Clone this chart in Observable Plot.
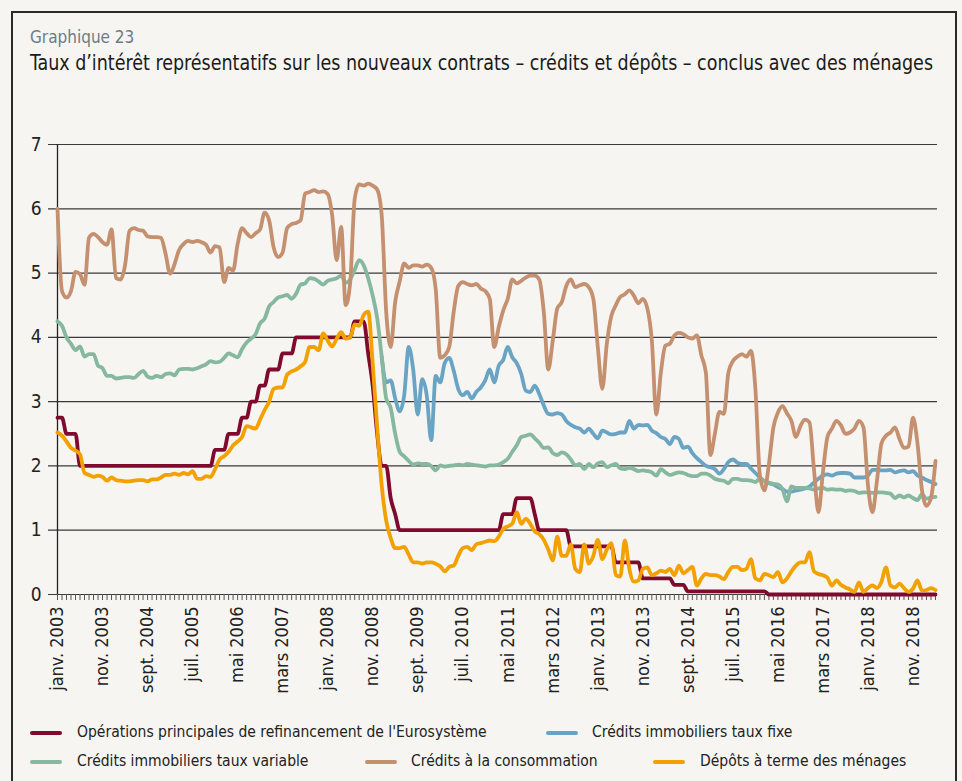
<!DOCTYPE html>
<html><head><meta charset="utf-8">
<script src="https://cdn.jsdelivr.net/npm/d3@7"></script>
<script src="https://cdn.jsdelivr.net/npm/@observablehq/plot@0.6"></script>
<style>
html,body{margin:0;padding:0;background:#f6f5f1;}
body{width:962px;height:781px;position:relative;overflow:hidden;font-family:"Liberation Sans Narrow","DejaVu Sans Condensed","DejaVu Sans",sans-serif;font-stretch:condensed;}
#frame{position:absolute;left:11px;top:11px;width:946px;height:800px;border:2px solid #2a2a2a;border-bottom:none;background:#f6f5f1;box-sizing:border-box;}
#kicker{position:absolute;left:30px;top:27px;font-size:17px;color:#6e7b86;}
#title{position:absolute;left:30px;top:51px;font-size:21px;color:#1b1b1b;white-space:nowrap;transform-origin:0 0;}
#chart{position:absolute;left:0;top:100px;}
.leg{position:absolute;font-size:15.5px;color:#222;white-space:nowrap;line-height:18px;}
.sw{position:absolute;height:4px;border-radius:2px;}
</style></head>
<body>
<div id="frame"></div>
<div id="kicker">Graphique 23</div>
<div id="title">Taux d’intérêt représentatifs sur les nouveaux contrats – crédits et dépôts – conclus avec des ménages</div>
<div id="chart"></div>
<div id="legend"></div>
<script>
// x tick labels (every 10 months from janv. 2003)
const tickLabels = ["janv. 2003","nov. 2003","sept. 2004","juil. 2005","mai 2006","mars 2007","janv. 2008","nov. 2008","sept. 2009","juil. 2010","mai 2011","mars 2012","janv. 2013","nov. 2013","sept. 2014","juil. 2015","mai 2016","mars 2017","janv. 2018","nov. 2018"];
const yTicks = [0,1,2,3,4,5,6,7];

// Opérations principales de refinancement de l'Eurosystème (monthly, janv. 2003 -> avr. 2019)
const refi = [
2.75,2.75,2.5,2.5,2.5,2,2,2,2,2,
2,2,2,2,2,2,2,2,2,2,
2,2,2,2,2,2,2,2,2,2,
2,2,2,2,2,2.25,2.25,2.25,2.5,2.5,
2.5,2.75,2.75,3,3,3.25,3.25,3.5,3.5,3.5,
3.75,3.75,3.75,4,4,4,4,4,4,4,
4,4,4,4,4,4,4.25,4.25,4.25,3.75,
3.25,2.5,2,2,1.5,1.25,1,1,1,1,
1,1,1,1,1,1,1,1,1,1,
1,1,1,1,1,1,1,1,1,1.25,
1.25,1.25,1.5,1.5,1.5,1.5,1.25,1,1,1,
1,1,1,1,0.75,0.75,0.75,0.75,0.75,0.75,
0.75,0.75,0.75,0.75,0.5,0.5,0.5,0.5,0.5,0.5,
0.25,0.25,0.25,0.25,0.25,0.25,0.25,0.15,0.15,0.15,
0.05,0.05,0.05,0.05,0.05,0.05,0.05,0.05,0.05,0.05,
0.05,0.05,0.05,0.05,0.05,0.05,0.05,0.05,0,0,
0,0,0,0,0,0,0,0,0,0,
0,0,0,0,0,0,0,0,0,0,
0,0,0,0,0,0,0,0,0,0,
0,0,0,0,0,0];

// Crédits immobiliers taux fixe (from janv. 2009)
const fixe = [
null,null,null,null,null,null,null,null,null,null,
null,null,null,null,null,null,null,null,null,null,
null,null,null,null,null,null,null,null,null,null,
null,null,null,null,null,null,null,null,null,null,
null,null,null,null,null,null,null,null,null,null,
null,null,null,null,null,null,null,null,null,null,
null,null,null,null,null,null,null,null,null,null,
null,null,3.7,3.3,3.33,3.05,2.85,3.1,3.85,3.5,
2.8,3.35,3.1,2.4,3.4,3.3,3.6,3.68,3.48,3.2,
3.1,3.15,3.05,3.15,3.22,3.33,3.5,3.3,3.56,3.65,
3.85,3.69,3.6,3.43,3.17,3.15,3.25,3.12,2.94,2.81,
2.8,2.82,2.8,2.7,2.64,2.6,2.58,2.52,2.58,2.5,
2.43,2.55,2.52,2.49,2.5,2.52,2.52,2.7,2.58,2.64,
2.63,2.64,2.55,2.51,2.45,2.42,2.34,2.45,2.42,2.28,
2.3,2.2,2.12,2.06,2,1.98,1.95,1.88,1.95,2.06,
2.1,2.05,2.03,2.03,1.96,1.89,1.82,1.76,1.73,1.71,
1.67,1.64,1.6,1.6,1.62,1.63,1.65,1.68,1.74,1.8,
1.85,1.87,1.85,1.88,1.89,1.89,1.88,1.82,1.82,1.82,
1.85,1.94,1.94,1.93,1.93,1.94,1.9,1.92,1.93,1.9,
1.92,1.85,1.82,1.78,1.75,1.72];

// Crédits immobiliers taux variable
const variable = [
4.25,4.18,4,3.9,3.8,3.86,3.7,3.74,3.74,3.56,
3.52,3.4,3.4,3.36,3.37,3.38,3.38,3.37,3.43,3.48,
3.39,3.37,3.4,3.38,3.43,3.44,3.41,3.5,3.51,3.51,
3.5,3.52,3.55,3.58,3.63,3.61,3.62,3.68,3.75,3.72,
3.69,3.82,3.92,3.98,4.05,4.22,4.29,4.48,4.55,4.62,
4.64,4.66,4.6,4.68,4.82,4.84,4.92,4.91,4.87,4.82,
4.88,4.9,4.92,4.96,4.85,4.9,5.05,5.2,5.12,4.92,
4.65,4.3,3.7,3.05,2.9,2.5,2.22,2.15,2.08,2.02,
2.04,2.03,2.03,2,1.93,2.01,1.99,2,2.01,2.02,
2.01,2.03,2.02,2.01,2,1.99,2.01,2.01,2.02,2.06,
2.11,2.22,2.32,2.45,2.47,2.49,2.43,2.36,2.28,2.29,
2.2,2.17,2.21,2.18,2.1,2.01,2.03,1.95,2.03,1.98,
2.04,2.06,1.98,2.01,2.03,1.96,1.95,1.97,1.95,1.92,
1.93,1.92,1.9,1.85,1.95,1.9,1.86,1.88,1.9,1.89,
1.86,1.84,1.84,1.88,1.88,1.85,1.8,1.78,1.77,1.73,
1.8,1.8,1.78,1.78,1.77,1.75,1.8,1.76,1.74,1.72,
1.71,1.64,1.45,1.68,1.66,1.66,1.66,1.65,1.63,1.65,
1.66,1.63,1.64,1.63,1.63,1.61,1.62,1.61,1.58,1.59,
1.59,1.58,1.59,1.59,1.58,1.57,1.5,1.54,1.51,1.54,
1.5,1.47,1.56,1.49,1.51,1.52];

// Crédits à la consommation
const conso = [
6,4.72,4.62,4.72,5.02,4.98,4.82,5.55,5.61,5.56,
5.48,5.44,5.68,4.92,4.9,5.12,5.66,5.7,5.67,5.66,
5.57,5.56,5.56,5.55,5.3,4.99,5.14,5.36,5.45,5.5,
5.48,5.5,5.48,5.44,5.32,5.42,5.4,4.86,5.08,5.04,
5.45,5.7,5.62,5.56,5.62,5.68,5.94,5.82,5.4,5.25,
5.32,5.7,5.76,5.78,5.82,6.24,6.26,6.29,6.26,6.27,
6.23,5.9,5.2,5.72,4.5,4.85,6.15,6.38,6.36,6.39,
6.36,6.3,5.9,4.4,3.85,4.55,4.87,5.15,5.08,5.12,
5.12,5.1,5.13,5.08,4.75,3.68,3.72,3.85,4.4,4.8,
4.86,4.83,4.81,4.83,4.76,4.72,4.6,3.85,4.16,4.42,
4.6,4.9,4.84,4.88,4.93,4.96,4.96,4.9,4.4,3.5,
3.95,4.45,4.55,4.8,4.9,4.78,4.81,4.83,4.78,4.6,
3.85,3.2,3.9,4.33,4.5,4.63,4.67,4.73,4.65,4.53,
4.6,4.45,3.95,2.8,3.45,3.87,3.9,4.03,4.07,4.05,
4,3.98,4.03,3.72,3.45,2.17,2.5,2.84,2.81,3.45,
3.63,3.7,3.74,3.7,3.79,3.2,1.85,1.62,2.03,2.6,
2.83,2.93,2.82,2.7,2.45,2.62,2.72,2.68,1.95,1.28,
1.9,2.45,2.58,2.7,2.63,2.5,2.52,2.58,2.7,2.6,
1.7,1.28,1.77,2.35,2.47,2.52,2.6,2.42,2.28,2.3,
2.75,2.35,1.62,1.38,1.5,2.08];

// Dépôts à terme des ménages
const depots = [
2.52,2.47,2.38,2.28,2.24,2.18,1.89,1.86,1.83,1.85,
1.83,1.77,1.82,1.78,1.77,1.76,1.76,1.77,1.78,1.78,
1.76,1.79,1.79,1.82,1.86,1.86,1.88,1.86,1.89,1.87,
1.92,1.8,1.8,1.84,1.83,1.95,2.1,2.15,2.22,2.32,
2.38,2.45,2.62,2.6,2.58,2.72,2.87,3,3.2,3.22,
3.22,3.42,3.47,3.5,3.55,3.62,3.85,3.85,3.8,4.06,
3.95,3.86,3.98,4.08,3.98,4,4.2,4.18,4.35,4.4,
3.6,2.6,1.7,1.15,0.88,0.72,0.72,0.74,0.62,0.5,
0.5,0.48,0.5,0.5,0.48,0.44,0.36,0.43,0.45,0.6,
0.72,0.74,0.69,0.78,0.8,0.82,0.84,0.83,0.9,1.02,
1.06,1.1,1.28,1.1,1.18,1.1,0.98,0.94,0.85,0.7,
0.53,0.9,0.6,0.6,0.78,0.4,0.35,0.78,0.48,0.6,
0.85,0.55,0.7,0.8,0.3,0.28,0.84,0.4,0.2,0.22,
0.4,0.42,0.3,0.33,0.37,0.35,0.4,0.3,0.45,0.33,
0.38,0.43,0.14,0.25,0.32,0.3,0.3,0.28,0.24,0.35,
0.43,0.43,0.38,0.4,0.55,0.25,0.22,0.32,0.3,0.27,
0.35,0.19,0.25,0.36,0.45,0.5,0.5,0.66,0.36,0.32,
0.3,0.26,0.14,0.22,0.15,0.11,0.08,0.04,0.19,0.04,
0.1,0.14,0.1,0.2,0.42,0.14,0.11,0.17,0.1,0.04,
0.09,0.22,0.06,0.07,0.1,0.07];

const seriesNames = ["Opérations principales de refinancement de l'Eurosystème","Crédits immobiliers taux fixe","Crédits immobiliers taux variable","Crédits à la consommation","Dépôts à terme des ménages"];
const seriesColors = ["#800a2e","#6aa4c5","#86b8a0","#c4906f","#f2a100"];
const seriesValues = [refi, fixe, variable, conso, depots];

const months = d3.range(refi.length);
const labelIdx = tickLabels.map((_, k) => k * 10);
const FONT = '"Liberation Sans Narrow","DejaVu Sans Condensed","DejaVu Sans",sans-serif';

const chart = Plot.plot({
  width: 962, height: 600,
  marginLeft: 57, marginRight: 27, marginTop: 44, marginBottom: 106,
  style: {background: "transparent", fontFamily: FONT, color: "#222", overflow: "visible"},
  x: {domain: [0, months.length - 1]},
  y: {domain: [0, 7]},
  marks: [
    Plot.ruleY(yTicks, {stroke: "#3a3a3a", strokeWidth: 1.2, insetLeft: -9, insetRight: -2}),
    Plot.axisY(yTicks, {tickSize: 0, tickPadding: 16, fontSize: 19, fill: "#222", label: null, tickFormat: d => String(d)}),
    Plot.axisX(months, {tickSize: 6, stroke: "#555", tickFormat: () => "", label: null}),
    Plot.axisX(labelIdx, {tickSize: 0, tickPadding: 12, tickRotate: -90, fontSize: 18, fill: "#222", label: null,
      tickFormat: d => tickLabels[labelIdx.indexOf(d)]}),
    Plot.ruleX([0], {y1: 0, y2: 7, stroke: "#222", strokeWidth: 1.3}),
    ...seriesValues.map((vals, k) => Plot.lineY(vals, {stroke: seriesColors[k], strokeWidth: 3.8, curve: "monotone-x", strokeLinejoin: "round", strokeLinecap: "round"}))
  ]
});
document.getElementById("chart").appendChild(chart);

// fit the title to the reference width (903px) by horizontal condensing
const titleEl = document.getElementById("title");
const tw = titleEl.getBoundingClientRect().width;
if (tw > 903) titleEl.style.transform = `scaleX(${903 / tw})`;

// legend
const legPos = [[30, 733, 77], [546, 733, 592], [30, 762, 77], [365, 762, 411], [653, 762, 700]];
const leg = document.getElementById("legend");
seriesNames.forEach((name, k) => {
  const [sx, cy, tx] = legPos[k];
  const sw = document.createElement("div");
  sw.className = "sw";
  sw.style.left = sx + "px"; sw.style.top = (cy - 2) + "px"; sw.style.width = "32px";
  sw.style.background = seriesColors[k];
  leg.appendChild(sw);
  const t = document.createElement("div");
  t.className = "leg";
  t.style.left = tx + "px"; t.style.top = (cy - 10) + "px";
  t.textContent = name;
  leg.appendChild(t);
});
</script>
</body></html>
